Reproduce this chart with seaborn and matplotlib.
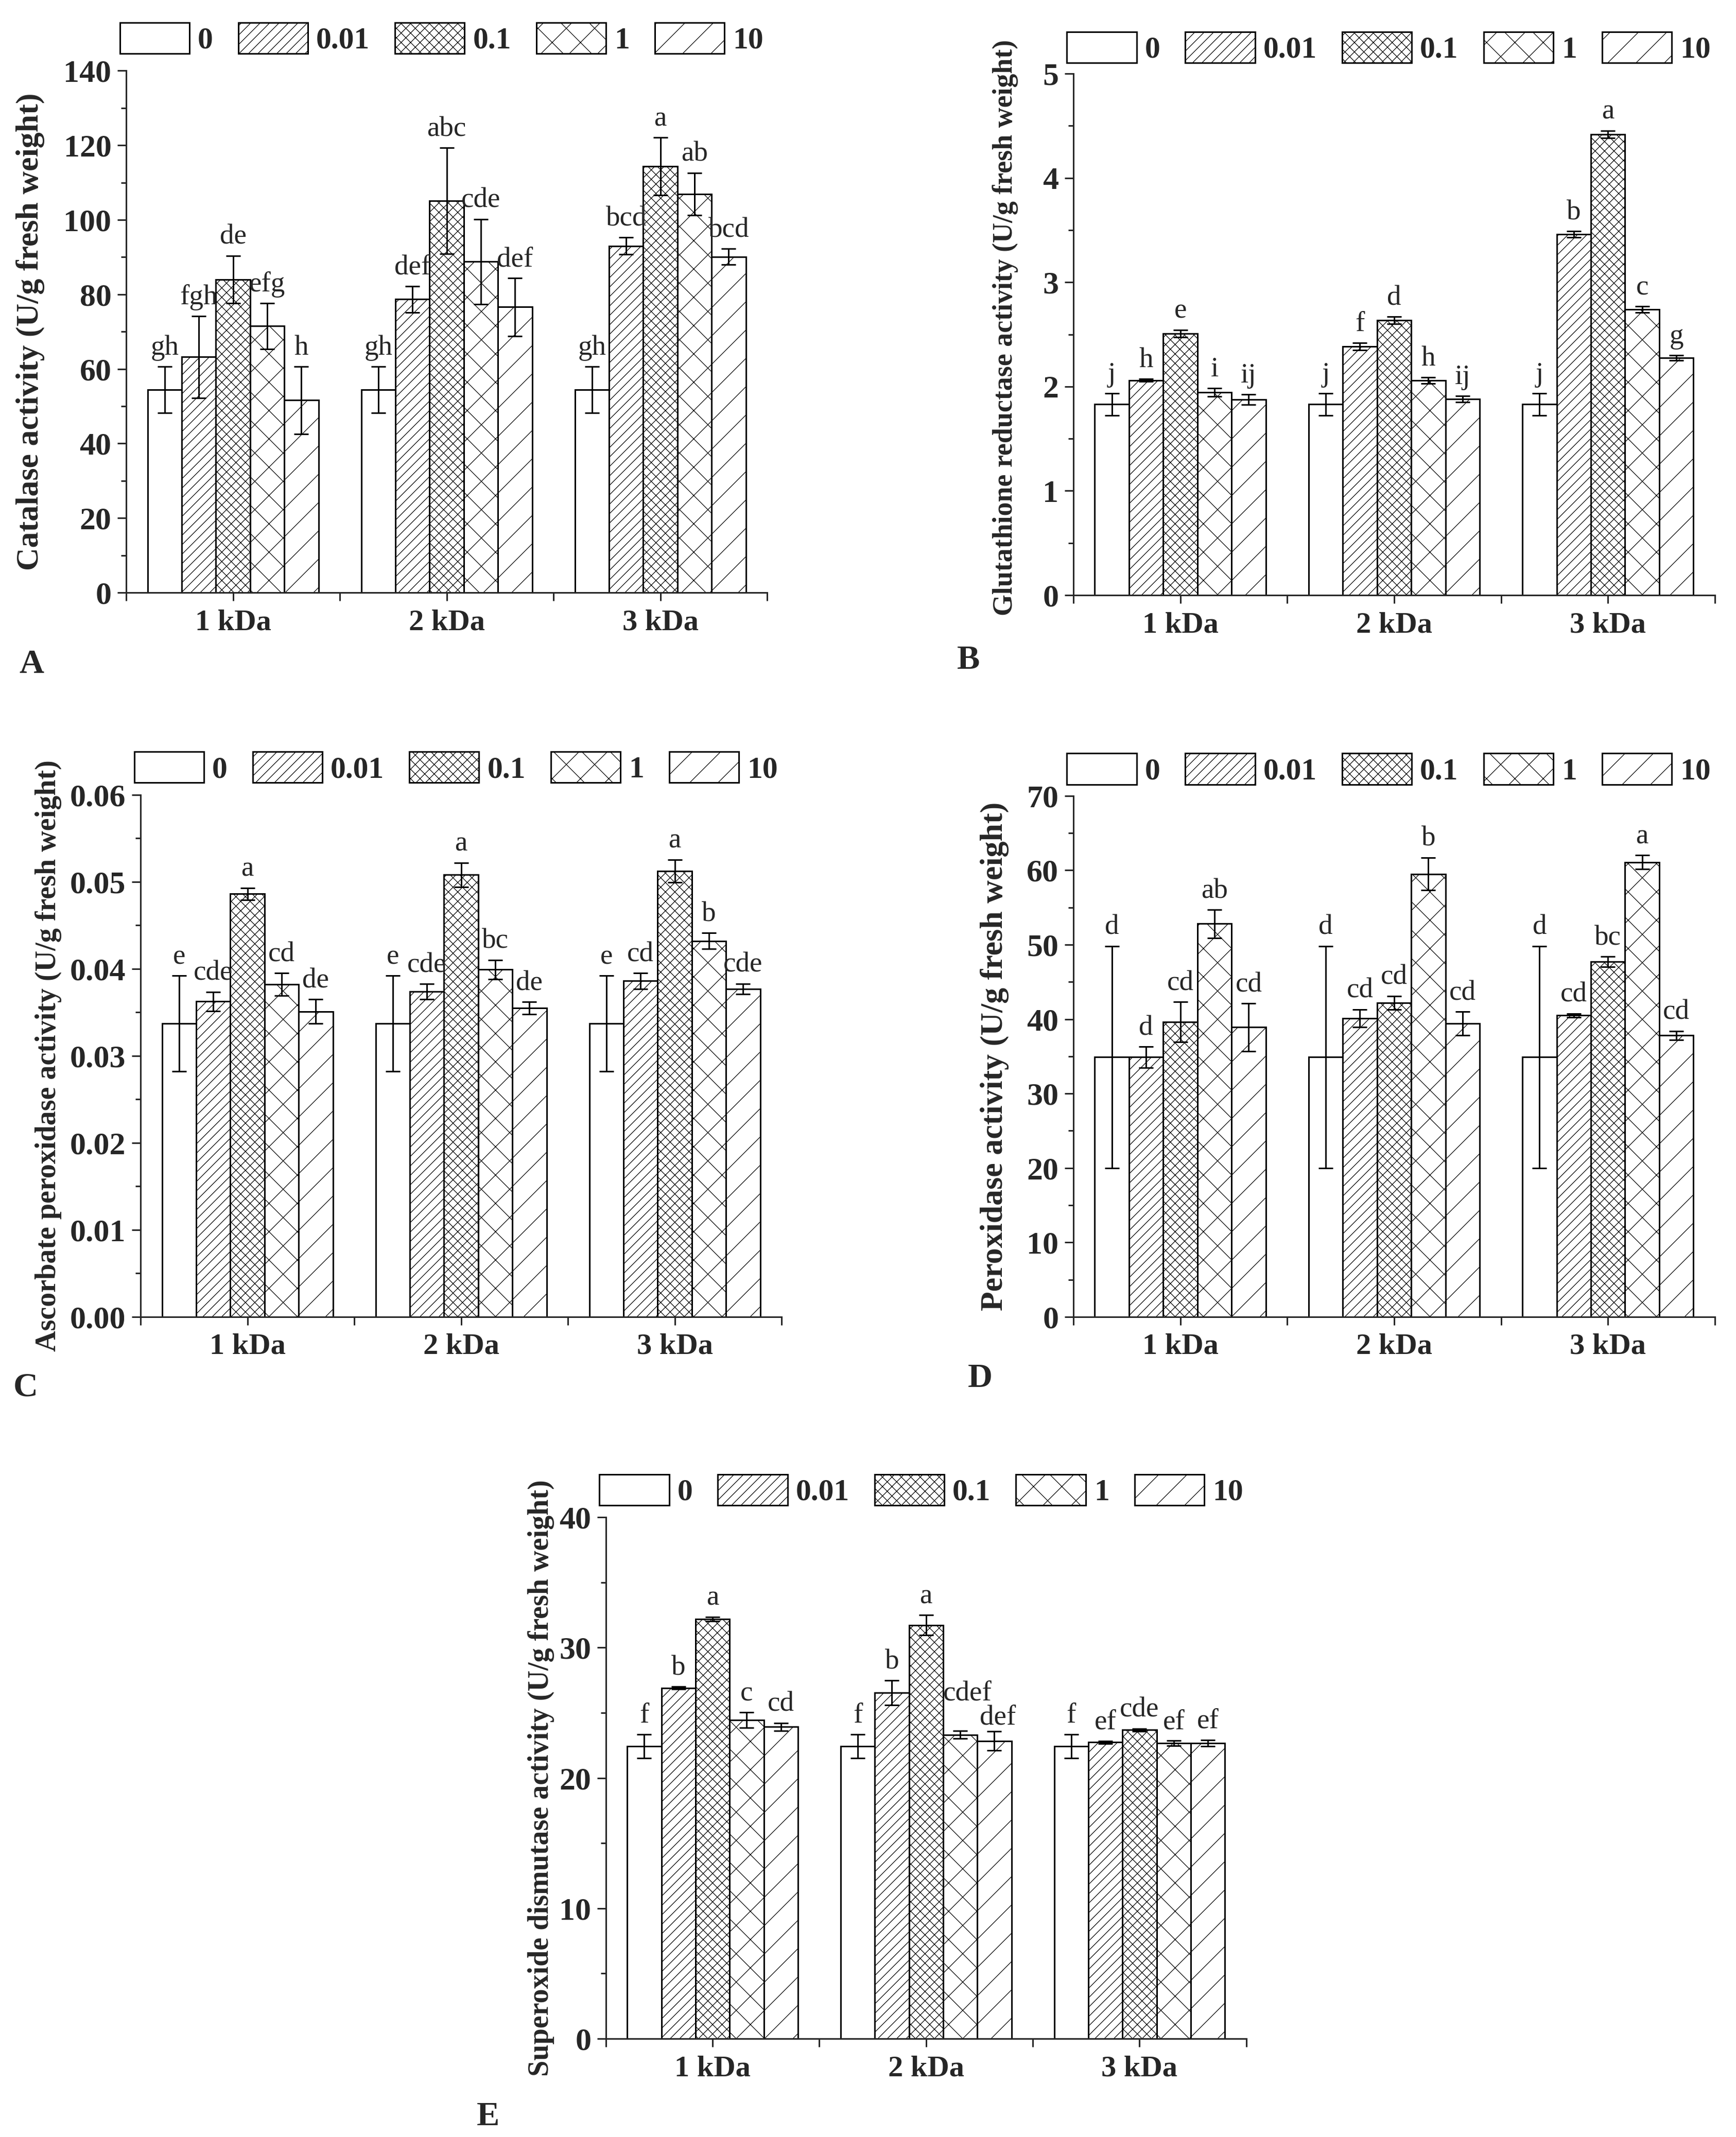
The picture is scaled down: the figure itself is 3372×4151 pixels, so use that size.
"""
Antioxidant enzyme activities (five panels, A-E) as grouped hatched bars.
"""

import matplotlib
matplotlib.use("Agg")
import numpy as np
import pandas as pd
import matplotlib.pyplot as plt
import seaborn as sns
from matplotlib.patches import Patch
from matplotlib.ticker import MultipleLocator, FormatStrFormatter

DPI = 165

groups = ["1 kDa", "2 kDa", "3 kDa"]
doses = ["0", "0.01", "0.1", "1", "10"]
hatches = ["", "///", "xxx", "x", "/"]

# rows = dose, cols = 1/2/3 kDa
cat_mean = [[54.4, 54.4, 54.4], [63.2, 78.7, 93.0], [84.0, 105.1, 114.4],
            [71.5, 88.8, 106.9], [51.6, 76.6, 90.1]]
cat_err = [[6.2, 6.2, 6.2], [11.0, 3.5, 2.3], [6.4, 14.2, 7.7],
           [6.1, 11.4, 5.7], [9.0, 7.8, 2.1]]
cat_letters = [["gh", "gh", "gh"], ["fgh", "def", "bcd"], ["de", "abc", "a"],
               ["efg", "cde", "ab"], ["h", "def", "bcd"]]

gr_mean = [[1.83, 1.83, 1.83], [2.06, 2.385, 3.46], [2.51, 2.635, 4.42],
           [1.945, 2.06, 2.74], [1.875, 1.883, 2.275]]
gr_err = [[0.107, 0.107, 0.107], [0.012, 0.035, 0.03], [0.035, 0.035, 0.035],
          [0.04, 0.03, 0.03], [0.05, 0.03, 0.025]]
gr_letters = [["j", "j", "j"], ["h", "f", "b"], ["e", "d", "a"],
              ["i", "h", "c"], ["ij", "ij", "g"]]

apx_mean = [[0.0337, 0.0337, 0.0337], [0.03625, 0.03737, 0.0386], [0.0486, 0.0508, 0.05125],
            [0.0382, 0.0399, 0.0432], [0.0351, 0.0355, 0.0377]]
apx_err = [[0.0055, 0.0055, 0.0055], [0.0011, 0.0009, 0.0009], [0.0007, 0.0014, 0.0013],
           [0.0013, 0.0011, 0.0009], [0.0014, 0.0007, 0.0006]]
apx_letters = [["e", "e", "e"], ["cde", "cde", "cd"], ["a", "a", "a"],
               ["cd", "bc", "b"], ["de", "de", "cde"]]

pod_mean = [[34.9, 34.9, 34.9], [34.9, 40.1, 40.5], [39.6, 42.2, 47.7],
            [52.8, 59.5, 61.1], [38.9, 39.4, 37.8]]
pod_err = [[14.9, 14.9, 14.9], [1.4, 1.2, 0.25], [2.7, 0.9, 0.7],
           [1.9, 2.2, 0.9], [3.2, 1.6, 0.6]]
pod_letters = [["d", "d", "d"], ["d", "cd", "cd"], ["cd", "cd", "bc"],
               ["ab", "b", "a"], ["cd", "cd", "cd"]]

sod_mean = [[22.43, 22.43, 22.43], [26.9, 26.53, 22.74], [32.2, 31.73, 23.69],
            [24.44, 23.32, 22.67], [23.93, 22.84, 22.67]]
sod_err = [[0.9, 0.9, 0.9], [0.1, 0.95, 0.1], [0.15, 0.77, 0.1],
           [0.6, 0.3, 0.2], [0.3, 0.73, 0.25]]
sod_letters = [["f", "f", "f"], ["b", "b", "ef"], ["a", "a", "cde"],
               ["c", "cdef", "ef"], ["cd", "def", "ef"]]

sns.set_style("ticks")
plt.rcParams["font.family"] = ["Liberation Serif", "DejaVu Serif"]
plt.rcParams["hatch.linewidth"] = 0.55
plt.rcParams["axes.linewidth"] = 1.3

LW = 1.3
FS_LETTER = 24
FS_YTICK = 27
FS_XTICK = 25.5
FS_LEGEND = 26

# (dose index, group index) -> letter offset in points, where labels crowd
LETTER_NUDGE = {"E": {(3, 1): (6, 26), (4, 1): (3, 6)}}


def draw_panel(ax, tag, means, errs, letters, ylabel, ylab_fs, ylab_xy,
               ymax, major, minor, fmt, leg_y):
    df = pd.DataFrame({
        "kDa": np.tile(groups, len(doses)),
        "dose": np.repeat(doses, len(groups)),
        "value": np.ravel(means),
    })
    sns.barplot(data=df, x="kDa", y="value", hue="dose", order=groups, hue_order=doses,
                palette={d: "white" for d in doses}, saturation=1, errorbar=None,
                width=0.8, edgecolor="black", linewidth=LW, legend=False, ax=ax)

    nudge = LETTER_NUDGE.get(tag, {})
    bar_containers = list(ax.containers)
    for i, cont in enumerate(bar_containers):
        xs, tops = [], []
        for bar in cont.patches:
            bar.set_hatch(hatches[i])
            bar.set_edgecolor("black")
            xs.append(bar.get_x() + bar.get_width() / 2)
            tops.append(bar.get_height())
        ax.errorbar(xs, tops, yerr=errs[i], fmt="none", ecolor="black",
                    elinewidth=LW, capsize=6, capthick=LW, zorder=5)
        for j, x in enumerate(xs):
            ax.annotate(letters[i][j], (x, tops[j] + errs[i][j]),
                        xytext=nudge.get((i, j), (0, 10)),
                        textcoords="offset points", ha="center", va="baseline",
                        fontsize=FS_LETTER)

    ax.set_xlim(-0.5, 2.5)
    ax.set_ylim(0, ymax)
    ax.set_xticks([-0.5, 0.5, 1.5, 2.5], minor=True)
    ax.yaxis.set_major_locator(MultipleLocator(major))
    ax.yaxis.set_minor_locator(MultipleLocator(minor))
    ax.yaxis.set_major_formatter(FormatStrFormatter(fmt))
    ax.tick_params(which="major", direction="out", length=7.5, width=LW, pad=5)
    ax.tick_params(which="minor", direction="out", length=4.5, width=LW)
    ax.tick_params(axis="x", which="both", length=7, pad=7)
    for lab in ax.get_yticklabels():
        lab.set_fontsize(FS_YTICK)
        lab.set_fontweight("bold")
    for lab in ax.get_xticklabels():
        lab.set_fontsize(FS_XTICK)
        lab.set_fontweight("bold")
    ax.set_xlabel("")
    ax.set_ylabel(ylabel, fontsize=ylab_fs, fontweight="bold")
    ax.yaxis.set_label_coords(*ylab_xy)
    sns.despine(ax=ax)

    handles = [Patch(facecolor="white", edgecolor="black", hatch=h, linewidth=LW)
               for h in hatches]
    ax.legend(handles, doses, loc="lower left", bbox_to_anchor=(-0.01, leg_y),
              ncol=5, frameon=False, borderpad=0, borderaxespad=0,
              handlelength=2.27, handleheight=1.18, handletextpad=0.27,
              columnspacing=0.82, prop={"size": FS_LEGEND, "weight": "bold"})


def main():
    fig = plt.figure(figsize=(3372 / DPI, 4151 / DPI), dpi=DPI)

    panels = [
        ("A", [0.0727, 0.7227, 0.3692, 0.2442], cat_mean, cat_err, cat_letters,
         "Catalase activity (U/g fresh weight)", 27, (-0.127, 0.5),
         140, 20, 10, "%d", 1.03, (37, 1291)),
        ("B", [0.6183, 0.7215, 0.3695, 0.2440], gr_mean, gr_err, gr_letters,
         "Glutathione reductase activity (U/g fresh weight)", 23.5, (-0.086, 0.513),
         5, 1, 0.5, "%d", 1.018, (1859, 1283)),
        ("C", [0.0810, 0.3838, 0.3692, 0.2443], apx_mean, apx_err, apx_letters,
         "Ascorbate peroxidase activity (U/g fresh weight)", 24.5, (-0.123, 0.5),
         0.06, 0.01, 0.005, "%.2f", 1.02, (26, 2695)),
        ("D", [0.6183, 0.3838, 0.3695, 0.2438], pod_mean, pod_err, pod_letters,
         "Peroxidase activity (U/g fresh weight)", 27, (-0.100, 0.5),
         70, 10, 5, "%d", 1.019, (1880, 2678)),
        ("E", [0.3490, 0.0460, 0.3689, 0.2440], sod_mean, sod_err, sod_letters,
         "Superoxide dismutase activity (U/g fresh weight)", 24.5, (-0.080, 0.5),
         40, 10, 5, "%d", 1.02, (926, 4112)),
    ]

    for tag, rect, m, e, lt, ylab, yfs, yxy, ymax, major, minor, fmt, leg_y, (tx, ty) in panels:
        ax = fig.add_axes(rect)
        draw_panel(ax, tag, m, e, lt, ylab, yfs, yxy, ymax, major, minor, fmt, leg_y)
        fig.text(tx / 3372, 1 - ty / 4151, tag, fontsize=29, fontweight="bold",
                 ha="left", va="center")

    fig.savefig("out.png", dpi=DPI, facecolor="white")
    plt.close(fig)


if __name__ == "__main__":
    main()
